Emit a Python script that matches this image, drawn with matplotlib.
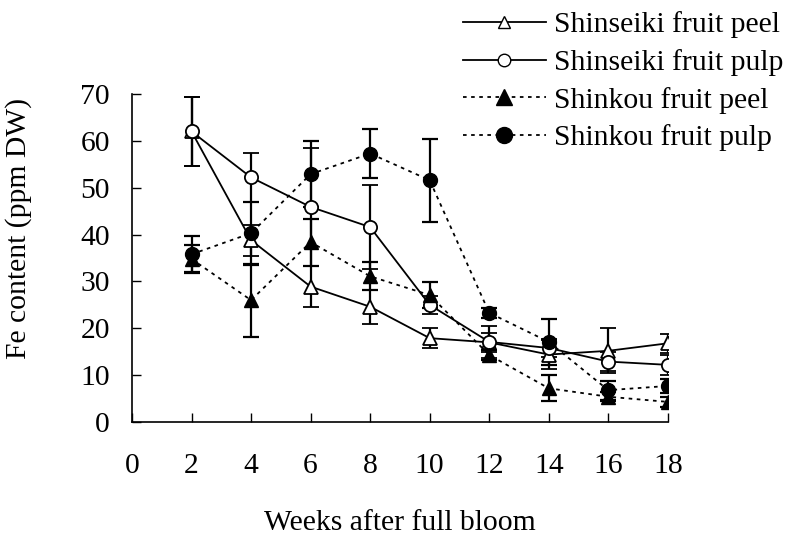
import matplotlib
matplotlib.use("Agg")
import matplotlib.pyplot as plt
from matplotlib.lines import Line2D
import numpy as np

weeks = [2, 4, 6, 8, 10, 12, 14, 16, 18]

shinseiki_peel = [62.0, 38.8, 28.9, 24.6, 17.9, 17.0, 14.4, 15.2, 16.8]
shinseiki_peel_err = [7.3, 3.3, 4.3, 3.6, 2.1, 2.0, 3.0, 4.8, 2.0]

shinseiki_pulp = [62.0, 52.2, 45.9, 41.6, 25.0, 17.1, 15.8, 12.9, 12.2]
shinseiki_pulp_err = [7.3, 5.2, 12.5, 8.9, 2.0, 3.5, 2.0, 2.0, 2.2]

shinkou_peel = [34.8, 26.0, 38.4, 31.1, 27.1, 14.3, 7.2, 5.4, 4.3]
shinkou_peel_err = [3.0, 7.8, 5.0, 3.0, 2.8, 1.0, 2.8, 1.0, 1.0]

shinkou_pulp = [35.8, 40.3, 52.9, 57.3, 51.6, 23.3, 17.1, 6.8, 7.7]
shinkou_pulp_err = [3.8, 6.7, 7.0, 5.2, 8.9, 1.0, 4.9, 2.0, 1.5]

labels = ["Shinseiki fruit peel", "Shinseiki fruit pulp",
          "Shinkou fruit peel", "Shinkou fruit pulp"]

plt.rcParams['font.family'] = ['Liberation Serif', 'DejaVu Serif']
fs = 21.3

fig = plt.figure(figsize=(7.88, 5.39), dpi=100)
ax = fig.add_axes([0.1675, 0.217, 0.68, 0.6086])

dot = (0, (2.0, 2.5))
common = dict(color='black', ecolor='black', elinewidth=1.6, capsize=6,
              capthick=1.6, lw=1.3)

ax.errorbar(weeks, shinseiki_peel, yerr=shinseiki_peel_err, marker='^', markersize=9.5,
            mfc='white', mec='black', mew=1.3, linestyle='-', **common)
ax.errorbar(weeks, shinseiki_pulp, yerr=shinseiki_pulp_err, marker='o', markersize=9.5,
            mfc='white', mec='black', mew=1.3, linestyle='-', **common)
ax.errorbar(weeks, shinkou_peel, yerr=shinkou_peel_err, marker='^', markersize=10,
            mfc='black', mec='black', linestyle=dot, **common)
ax.errorbar(weeks, shinkou_pulp, yerr=shinkou_pulp_err, marker='o', markersize=10,
            mfc='black', mec='black', linestyle=dot, **common)

ax.set_xlim(0, 18)
ax.set_ylim(0, 70)
ax.set_xticks(np.arange(0, 19, 2))
ax.set_yticks(np.arange(0, 71, 10))
ax.spines['top'].set_visible(False)
ax.spines['right'].set_visible(False)
for s in ['left', 'bottom']:
    ax.spines[s].set_linewidth(1.2)
ax.tick_params(axis='x', direction='in', length=6.5, width=1, pad=22, labelsize=fs)
ax.tick_params(axis='y', direction='in', length=6.5, width=1, pad=16, labelsize=fs)

ax.set_xlabel("Weeks after full bloom", fontsize=fs)
ax.xaxis.set_label_coords(0.5, -0.268)
ax.set_ylabel("Fe content (ppm DW)", fontsize=fs)
ax.yaxis.set_label_coords(-0.187, 0.59)

leg_handles = [
    Line2D([], [], color='black', lw=1.3, ls='-', marker='^', mfc='white', mec='black', markersize=9),
    Line2D([], [], color='black', lw=1.3, ls='-', marker='o', mfc='white', mec='black', markersize=9),
    Line2D([], [], color='black', lw=1.3, ls=dot, marker='^', mfc='black', mec='black', markersize=11.5),
    Line2D([], [], color='black', lw=1.3, ls=dot, marker='o', mfc='black', mec='black', markersize=11.5),
]
fig.legend(leg_handles, labels, loc='upper left', bbox_to_anchor=(0.5876, 0.979),
           frameon=False, fontsize=fs, handlelength=2.8, handletextpad=0.27,
           labelspacing=0.36, borderpad=0, borderaxespad=0)

fig.savefig("out.png", dpi=100)
